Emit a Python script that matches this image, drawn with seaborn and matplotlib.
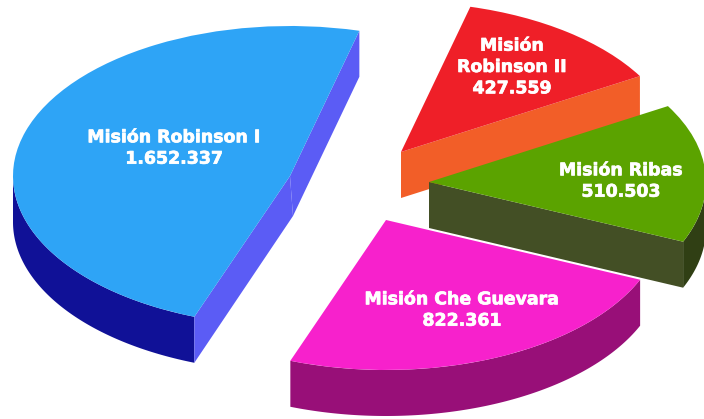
import numpy as np
import pandas as pd
import seaborn as sns
import matplotlib.pyplot as plt
import matplotlib.patheffects as pe

# slices, in pie order (counter clockwise from the top of Robinson I)
slices = ['Misión Robinson I', 'Misión Che Guevara', 'Misión Ribas', 'Misión\nRobinson II']
values = [1652337, 822361, 510503, 427559]
value_labels = ['1.652.337', '822.361', '510.503', '427.559']

top_colors = ['#2ea4f6', '#f721cc', '#5ba300', '#ef1f28']
face_colors = ['#5b5cf5', '#980f78', '#434f25', '#f25e28']
rim_colors = ['#101197', '#980f78', '#303f14', '#f25e28']

WIDTH, HEIGHT = 704, 419
RX, RY = 277.0, 150.0   # ellipse radii in pixels, one pie unit on each axis
DEPTH = 46.0

# apex of each slice and drop of its inner bottom corner, in pixels
apex_px = [(290, 176), (386, 220), (429, 182), (401, 152)]
apex_drop_px = [(3, 40), (0, 46), (0, 46), (0, 46)]
label_px = [(174, 148), (462, 310), (621, 181), (512, 67)]
draw_order = [3, 2, 1, 0]

df = pd.DataFrame({'slice': slices, 'value': values, 'label': value_labels})

sns.set_theme(style='white')
fig = plt.figure(figsize=(WIDTH / 100, HEIGHT / 100), dpi=100)
ax = fig.add_axes([0, 0, 1, 1])

wedges, _ = ax.pie(df['value'], startangle=75.5, counterclock=True, radius=1,
                   colors=sns.color_palette(top_colors))
ax.set_aspect('auto')
ax.set_xlim(0, WIDTH / RX)
ax.set_ylim(0, HEIGHT / RY)
ax.axis('off')


def to_data(px, py):
    return px / RX, (HEIGHT - py) / RY


dy = DEPTH / RY
for i in draw_order:
    w = wedges[i]
    cx, cy = to_data(*apex_px[i])
    w.set_center((cx, cy))
    w.set_linewidth(0)
    w.set_zorder(10 + 3 * draw_order.index(i) + 2)
    z = 10 + 3 * draw_order.index(i)

    t1, t2 = np.radians(w.theta1), np.radians(w.theta2)
    bx = cx + apex_drop_px[i][0] / RX
    by = cy - apex_drop_px[i][1] / RY

    # outer wall, only the front half of the ellipse can be seen
    lo, hi = max(w.theta1, 180), min(w.theta2, 360)
    if w.theta1 < 0:
        lo, hi = w.theta1, 0
    if hi > lo:
        t = np.radians(np.linspace(lo, hi, 120))
        xs = cx + np.cos(t)
        ys = cy + np.sin(t)
        ax.fill(np.r_[xs, xs[::-1]], np.r_[ys, ys[::-1] - dy],
                color=rim_colors[i], lw=0, zorder=z)

    # cut faces between apex and the two ends of the arc
    for t_end in (t1, t2):
        ex, ey = cx + np.cos(t_end), cy + np.sin(t_end)
        # a face shows when the top lies above it on screen
        mid = (t1 + t2) / 2
        mx, my = cx + np.cos(mid), cy + np.sin(mid)
        side = (ex - cx) * (my - cy) - (ey - cy) * (mx - cx)
        if (ex - cx) * side > 0:
            ax.fill([cx, ex, ex, bx], [cy, ey, ey - dy, by],
                    color=face_colors[i], lw=0, zorder=z + 1)

for i in draw_order:
    x, y = to_data(*label_px[i])
    ax.text(x, y, df['slice'][i] + '\n' + df['label'][i], color='white', ha='center', va='center',
            fontsize=12.5, fontweight='bold', family=['DejaVu Sans'], linespacing=1.24, zorder=30,
            path_effects=[pe.withStroke(linewidth=0.5, foreground='white')])

fig.savefig('out.png', dpi=100, facecolor='white')
